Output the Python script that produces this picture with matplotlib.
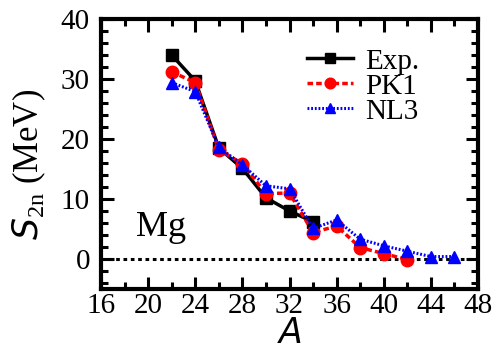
import matplotlib
matplotlib.use('Agg')
import matplotlib.pyplot as plt
from matplotlib.ticker import MultipleLocator

plt.rcParams['font.family'] = 'Liberation Serif'
plt.rcParams['mathtext.fontset'] = 'custom'
plt.rcParams['mathtext.rm'] = 'Liberation Serif'
plt.rcParams['mathtext.it'] = 'DejaVu Sans:italic'

# data
a_exp = [22, 24, 26, 28, 30, 32, 34]
s_exp = [34.0, 29.7, 18.5, 15.1, 10.2, 8.0, 6.2]
a_pk1 = [22, 24, 26, 28, 30, 32, 34, 36, 38, 40, 42]
s_pk1 = [31.2, 29.4, 18.2, 15.9, 10.9, 11.0, 4.4, 5.5, 1.9, 0.9, -0.1]
a_nl3 = [22, 24, 26, 28, 30, 32, 34, 36, 38, 40, 42, 44, 46]
s_nl3 = [29.4, 27.9, 18.6, 15.7, 12.2, 11.7, 5.1, 6.5, 3.3, 2.2, 1.3, 0.4, 0.4]

fig = plt.figure(figsize=(5, 3.52), dpi=100)
ax = fig.add_axes([0.202, 0.179, 0.754, 0.767])

ax.axhline(0, color='black', ls=(0, (1.2, 1.2)), lw=2.2, zorder=1)
ax.plot(a_exp, s_exp, color='black', ls='-', lw=2.5, marker='s', ms=8.5,
        label='Exp.', zorder=3)
ax.plot(a_pk1, s_pk1, color='red', ls='--', dashes=(1.6, 0.9), lw=2.5, marker='o',
        ms=9, label='PK1', zorder=4)
ax.plot(a_nl3, s_nl3, color='blue', ls=':', dashes=(0.6, 0.6), lw=2.2, marker='^',
        ms=8, label='NL3', zorder=5)

ax.set_xlim(16, 48)
ax.set_ylim(-5, 40)
ax.xaxis.set_major_locator(MultipleLocator(4))
ax.xaxis.set_minor_locator(MultipleLocator(2))
ax.yaxis.set_major_locator(MultipleLocator(10))
ax.yaxis.set_minor_locator(MultipleLocator(2))
ax.tick_params(which='both', direction='in', top=True, right=True,
               labelsize=21, width=2.2)
ax.tick_params(axis='y', pad=8)
ax.tick_params(axis='x', pad=3)
ax.tick_params(which='major', length=9)
ax.tick_params(which='minor', length=5)
for sp in ax.spines.values():
    sp.set_linewidth(3)

ax.set_xlabel(r'$A$', fontsize=25)
ax.xaxis.set_label_coords(0.5, -0.228)
ax.xaxis.label.set_va('bottom')
ax.set_ylabel(r'$S_{\rm 2n}$ (MeV)', fontsize=25)
ax.yaxis.set_label_coords(-0.14, 0.46)

ax.text(19.0, 3.8, 'Mg', fontsize=26, va='baseline')

ax.legend(loc='upper left', bbox_to_anchor=(0.515, 0.935), frameon=False,
          fontsize=21, handlelength=1.6, handletextpad=0.4, labelspacing=-0.05,
          borderaxespad=0, markerscale=0.85)

fig.savefig('out.png', dpi=100)
